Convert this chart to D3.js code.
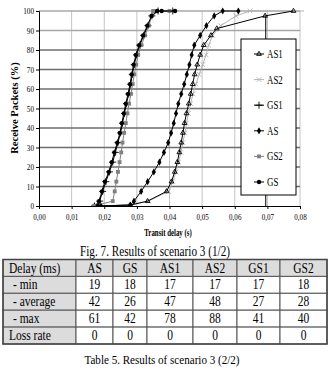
<!DOCTYPE html>
<html lang="en">
<head>
<meta charset="utf-8">
<title>Scenario 3</title>
<script src="https://d3js.org/d3.v7.min.js"></script>
<style>
  body { margin: 0; background: #fff; }
  text { font-family: "Liberation Serif", "Times New Roman", serif; fill: #000; }
</style>
</head>
<body>
<div id="viz"></div>
<script>
// cumulative curves: [transit delay (s), received packets (%)]
var asData  = [[0.019,0],[0.028,0.5],[0.0291,2.5],[0.0313,7.5],[0.0333,12.5],[0.0352,17.5],[0.0369,22.5],[0.0383,27.5],[0.0396,32.5],[0.0405,37.5],[0.0413,42.5],[0.042,47.5],[0.0427,52.5],[0.0436,57.5],[0.0445,62.5],[0.0453,67.5],[0.0461,72.5],[0.0468,77.5],[0.0476,82.5],[0.0494,87.5],[0.0513,92.5],[0.0537,97.5],[0.0563,100],[0.0611,100]];
var gsData  = [[0.018,0],[0.0184,2.5],[0.0193,7.5],[0.0202,12.5],[0.0214,17.5],[0.0223,22.5],[0.0231,27.5],[0.024,32.5],[0.0248,37.5],[0.0254,42.5],[0.026,47.5],[0.0266,52.5],[0.0273,57.5],[0.0279,62.5],[0.0284,67.5],[0.029,72.5],[0.0297,77.5],[0.0307,82.5],[0.0319,87.5],[0.0332,92.5],[0.0345,97.5],[0.0362,100],[0.0376,100],[0.0417,100]];
var as1Data = [[0.017,0],[0.028,0.5],[0.0333,2.5],[0.0391,7.5],[0.0406,12.5],[0.0416,17.5],[0.0424,22.5],[0.043,27.5],[0.0436,32.5],[0.0441,37.5],[0.0446,42.5],[0.0452,47.5],[0.0459,52.5],[0.0465,57.5],[0.0471,62.5],[0.0477,67.5],[0.0485,72.5],[0.0494,77.5],[0.0505,82.5],[0.0527,87.5],[0.0545,91],[0.0693,97.5],[0.078,100]];
var as1Drop = [[0.0695,0],[0.0695,97.5]];
var as2Data = [[0.017,0],[0.028,0.5],[0.0335,2.5],[0.0397,7.5],[0.041,12.5],[0.042,17.5],[0.0428,22.5],[0.0435,27.5],[0.0441,32.5],[0.0447,37.5],[0.0452,42.5],[0.0458,47.5],[0.0465,52.5],[0.0472,57.5],[0.0481,62.5],[0.0491,67.5],[0.0502,72.5],[0.0512,77.5],[0.052,82.5],[0.0532,87.5],[0.0557,92.5],[0.0604,97.5],[0.0647,100],[0.088,100]];
var gs1Data = [[0.017,0],[0.0186,2.5],[0.0195,7.5],[0.0205,12.5],[0.0216,17.5],[0.0226,22.5],[0.0234,27.5],[0.0242,32.5],[0.025,37.5],[0.0256,42.5],[0.0262,47.5],[0.0268,52.5],[0.0275,57.5],[0.0281,62.5],[0.0286,67.5],[0.0292,72.5],[0.0299,77.5],[0.0309,82.5],[0.0321,87.5],[0.0334,92.5],[0.0346,97.5],[0.0365,100],[0.041,100]];
var gs2Data = [[0.0168,0],[0.0226,2.5],[0.0232,7.5],[0.0237,12.5],[0.0242,17.5],[0.0247,22.5],[0.0252,27.5],[0.0256,32.5],[0.0261,37.5],[0.0266,42.5],[0.0271,47.5],[0.0276,52.5],[0.0282,57.5],[0.0287,62.5],[0.0292,67.5],[0.0298,72.5],[0.0304,77.5],[0.0314,82.5],[0.0325,87.5],[0.0337,92.5],[0.0345,97.5],[0.035,100],[0.04,100]];

var xTicks = [0,0.01,0.02,0.03,0.04,0.05,0.06,0.07,0.08];
var yTicks = [0,10,20,30,40,50,60,70,80,90,100];
var legendNames = ["AS1","AS2","GS1","AS","GS2","GS"];

// table
var tableHead = ["Delay (ms)","AS","GS","AS1","AS2","GS1","GS2"];
var rowLabels = ["- min","- average","- max","Loss rate"];
var rowValues = [
  [19,18,17,17,17,18],
  [42,26,47,48,27,28],
  [61,42,78,88,41,40],
  [0,0,0,0,0,0]
];

var W = 330, H = 379;
var svg = d3.select("#viz").append("svg").attr("width", W).attr("height", H);

// squeeze text horizontally like the original picture
function squeeze(sel, k) {
  sel.each(function() {
    var len = this.getComputedTextLength();
    d3.select(this).attr("textLength", len * k).attr("lengthAdjust", "spacingAndGlyphs");
  });
}

var x = d3.scaleLinear().domain([0, 0.08]).range([39, 300]);
var y = d3.scaleLinear().domain([0, 100]).range([206, 11]);

// grid
svg.append("g").selectAll("line").data(xTicks.slice(1)).join("line")
  .attr("x1", d => x(d)).attr("x2", d => x(d))
  .attr("y1", y(0)).attr("y2", y(100))
  .attr("stroke", "#c4c4c4").attr("stroke-width", 1);
svg.append("g").selectAll("line").data(yTicks.slice(1)).join("line")
  .attr("x1", x(0)).attr("x2", x(0.08))
  .attr("y1", d => y(d)).attr("y2", d => y(d))
  .attr("stroke", d => d >= 90 ? "#a8a8a8" : "#6e6e6e").attr("stroke-width", 1.3);

// axes
var yAxis = svg.append("g").attr("transform", "translate(" + x(0) + ",0)")
  .call(d3.axisLeft(y).tickValues(yTicks).tickSize(3).tickPadding(2));
var xAxis = svg.append("g").attr("transform", "translate(0," + y(0) + ")")
  .call(d3.axisBottom(x).tickValues(xTicks).tickSize(3).tickPadding(5)
    .tickFormat(d => d3.format(".2f")(d).replace(".", ",")));
[yAxis, xAxis].forEach(function(a) {
  a.select(".domain").attr("stroke", "#000");
  a.selectAll(".tick line").attr("stroke", "#000");
  a.selectAll("text").attr("font-family", "Liberation Serif").attr("font-size", 9).attr("fill", "#000");
});
squeeze(yAxis.selectAll("text"), 0.8);
squeeze(xAxis.selectAll("text"), 0.78);

// axis titles
svg.append("text").attr("x", 168).attr("y", 236).attr("text-anchor", "middle")
  .attr("font-size", 9.5).attr("font-weight", "bold").text("Transit delay (s)")
  .call(squeeze, 0.72);
svg.append("text").attr("transform", "translate(18,108) rotate(-90)")
  .attr("text-anchor", "middle").attr("font-size", 10.5).attr("font-weight", "bold")
  .text("Receive Packets (%)");

// series
var series = [
  {name: "AS1", data: as1Data, line: "#000", sym: d3.symbolTriangle2, size: 16, fill: "none", stroke: "#000"},
  {name: "AS2", data: as2Data, line: "#b4b4b4", sym: d3.symbolTimes, size: 16, fill: "none", stroke: "#b4b4b4"},
  {name: "GS1", data: gs1Data, line: "#000", sym: d3.symbolPlus, size: 18, fill: "none", stroke: "#000"},
  {name: "AS", data: asData, line: "#000", sym: d3.symbolDiamond, size: 15, fill: "#000", stroke: "none"},
  {name: "GS2", data: gs2Data, line: "#808080", sym: d3.symbolSquare, size: 15, fill: "#808080", stroke: "none"},
  {name: "GS", data: gsData, line: "#000", sym: d3.symbolCircle, size: 15, fill: "#000", stroke: "none"}
];

svg.append("clipPath").attr("id", "plotclip").append("rect")
  .attr("x", x(0)).attr("y", y(100) - 4).attr("width", x(0.08) - x(0) + 4).attr("height", y(0) - y(100) + 4);
var plot = svg.append("g").attr("clip-path", "url(#plotclip)");
var line = d3.line().x(d => x(d[0])).y(d => y(d[1]));

plot.append("path").datum(as1Drop).attr("d", line).attr("fill", "none").attr("stroke", "#000").attr("stroke-width", 1);

[1, 0, 2, 4, 3, 5].forEach(function(i) {
  var s = series[i];
  plot.append("path").datum(s.data).attr("d", line)
    .attr("fill", "none").attr("stroke", s.line).attr("stroke-width", 1);
  plot.append("g").selectAll("path").data(s.data.filter(d => d[0] <= 0.08)).join("path")
    .attr("transform", d => "translate(" + x(d[0]) + "," + y(d[1]) + ")")
    .attr("d", d3.symbol().type(s.sym).size(s.size))
    .attr("fill", s.fill).attr("stroke", s.stroke).attr("stroke-width", 0.9);
});

// legend
var lg = svg.append("g");
lg.append("rect").attr("x", 241).attr("y", 39).attr("width", 55).attr("height", 156)
  .attr("fill", "#fff").attr("stroke", "#000").attr("stroke-width", 1);
var ly = d3.scalePoint().domain(legendNames).range([54, 182]);
legendNames.forEach(function(n) {
  var s = series.find(d => d.name === n);
  var g = lg.append("g").attr("transform", "translate(0," + ly(n) + ")");
  g.append("line").attr("x1", 254).attr("x2", 264).attr("stroke", s.line).attr("stroke-width", 1);
  g.append("path").attr("transform", "translate(259,0)")
    .attr("d", d3.symbol().type(s.sym).size(s.size))
    .attr("fill", s.fill).attr("stroke", s.stroke).attr("stroke-width", 0.9);
  g.append("text").attr("x", 267).attr("y", 4).attr("font-size", 12).text(n).call(squeeze, 0.74);
});

// figure caption
svg.append("text").attr("x", 155).attr("y", 256).attr("text-anchor", "middle")
  .attr("font-size", 14).text("Fig. 7. Results of scenario 3 (1/2)").call(squeeze, 0.8);

// table
var colEdges = [3, 76, 113, 147, 193, 237, 280, 327];
var rowEdges = [259.5, 276.4, 293.3, 310.2, 327.1, 344];
var tb = svg.append("g");
var allRows = [tableHead].concat(rowLabels.map((r, i) => [r].concat(rowValues[i])));
allRows.forEach(function(row, ri) {
  row.forEach(function(cell, ci) {
    var gray = ri === 0 || ci === 0;
    tb.append("rect").attr("x", colEdges[ci]).attr("y", rowEdges[ri])
      .attr("width", colEdges[ci + 1] - colEdges[ci]).attr("height", rowEdges[ri + 1] - rowEdges[ri])
      .attr("fill", gray ? "#dcdcdc" : "#fff").attr("stroke", "#555").attr("stroke-width", 1);
    var t = tb.append("text").attr("y", rowEdges[ri] + 13).attr("font-size", 14).text(cell);
    if (ci === 0) {
      t.attr("x", colEdges[0] + (ri === 0 || cell === "Loss rate" ? 6 : 10));
    } else {
      t.attr("x", (colEdges[ci] + colEdges[ci + 1]) / 2).attr("text-anchor", "middle");
    }
    squeeze(t, 0.82);
  });
});
tb.append("rect").attr("x", colEdges[0]).attr("y", rowEdges[0])
  .attr("width", colEdges[7] - colEdges[0]).attr("height", rowEdges[5] - rowEdges[0])
  .attr("fill", "none").attr("stroke", "#444").attr("stroke-width", 1.5);

svg.append("text").attr("x", 162).attr("y", 364).attr("text-anchor", "middle")
  .attr("font-size", 13.5).text("Table 5. Results of scenario 3 (2/2)").call(squeeze, 0.82);
</script>
</body>
</html>
